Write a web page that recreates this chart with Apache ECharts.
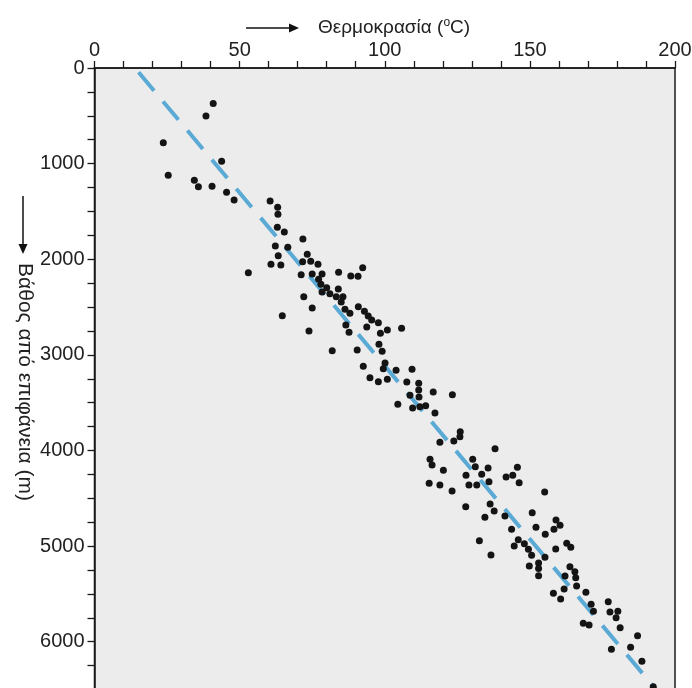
<!DOCTYPE html>
<html><head><meta charset="utf-8">
<script src="https://cdn.jsdelivr.net/npm/echarts@6/dist/echarts.min.js"></script>
<style>html,body{margin:0;padding:0;background:#fff}#c{width:692px;height:688px}</style>
</head><body><div id="c"></div>
<script>
// Temperature (°C) of each measurement
var tempValues = [40.9,38.4,23.7,43.8,25.4,34.4,35.8,40.5,45.5,48.1,60.5,63.1,63.2,63.0,65.4,71.8,62.3,66.6,73.3,63.3,71.7,74.5,60.8,64.2,77.0,53.0,71.2,75.0,78.4,84.1,92.4,88.3,90.8,77.2,78.0,80.0,84.0,78.4,81.1,83.3,85.6,72.1,85.0,75.0,90.9,86.3,88.0,93.0,94.3,95.5,97.8,93.8,86.6,100.9,105.8,87.7,98.5,64.7,73.9,81.9,90.5,98.0,99.1,92.6,100.1,99.5,103.9,109.4,94.9,97.8,100.9,107.6,111.7,111.7,111.8,116.7,123.3,108.7,104.5,109.6,112.1,114.1,117.3,126.0,125.9,123.8,119.0,138.0,115.6,116.3,130.3,131.2,135.6,120.2,145.7,133.4,128.0,141.8,144.1,135.9,146.3,115.3,119.0,129.0,131.7,123.2,155.1,136.3,127.9,137.7,134.5,141.4,150.8,143.7,152.1,159.0,160.4,158.3,155.3,146.0,132.6,144.6,148.1,149.5,150.6,136.6,158.9,162.7,164.1,155.2,153.0,153.0,153.0,149.8,163.8,165.5,165.8,162.1,166.1,161.8,158.1,160.6,169.3,171.1,171.9,168.4,170.4,177.0,177.6,180.3,179.7,181.1,187.1,178.1,184.7,188.6,192.5];
// Depth below surface (m) of each measurement
var depthValues = [370,502,781,976,1122,1174,1241,1237,1300,1380,1391,1457,1530,1666,1715,1788,1862,1875,1948,1963,2026,2022,2053,2060,2053,2141,2162,2154,2154,2137,2088,2175,2178,2210,2262,2298,2311,2343,2360,2392,2392,2392,2447,2510,2496,2524,2565,2544,2594,2635,2664,2709,2688,2740,2722,2764,2775,2590,2750,2956,2949,2890,2963,3120,3085,3145,3161,3151,3239,3281,3256,3284,3297,3367,3441,3388,3417,3423,3517,3556,3542,3532,3608,3804,3856,3901,3914,3981,4092,4152,4092,4170,4183,4207,4176,4249,4260,4277,4260,4326,4337,4343,4361,4361,4361,4424,4434,4560,4588,4633,4699,4685,4651,4824,4803,4727,4783,4824,4877,4933,4944,4999,4975,5033,5096,5093,5030,4971,5013,5117,5177,5234,5310,5208,5215,5268,5330,5313,5417,5449,5494,5553,5483,5609,5682,5807,5825,5581,5689,5682,5749,5853,5937,6079,6058,6205,6470];
// Trend line end points
var trendTemp = [15.2, 193.6];
var trendDepth = [45, 6505];
// Tick labels
var xTickLabels = [0, 50, 100, 150, 200];
var yTickLabels = [0, 1000, 2000, 3000, 4000, 5000, 6000];
var xTitle = 'Θερμοκρασία (';
var yTitle = 'Βάθος από επιφάνεια (m)';

var FONT = '"Liberation Sans", Arial, sans-serif';
var chart = echarts.init(document.getElementById('c'), null, {renderer: 'canvas', width: 692, height: 688});
var pts = tempValues.map(function (t, i) { return [t, depthValues[i]]; });
var trend = trendTemp.map(function (t, i) { return [t, trendDepth[i]]; });

chart.setOption({
  animation: false,
  backgroundColor: '#ffffff',
  grid: {left: 94.5, top: 68, width: 580.5, height: 622, show: true, containLabel: false,
         outerBoundsMode: 'none',
         backgroundColor: '#ececec', borderColor: '#1a1a1a', borderWidth: 1.5},
  xAxis: {
    type: 'value', position: 'top', min: 0, max: 200, interval: 10,
    axisLine: {show: true, lineStyle: {color: '#1a1a1a', width: 1.5}},
    axisTick: {show: true, length: 7, lineStyle: {color: '#1a1a1a', width: 1.3}},
    splitLine: {show: false},
    axisLabel: {margin: 8, fontFamily: FONT, fontSize: 20, color: '#222',
      formatter: function (v) { return xTickLabels.indexOf(v) >= 0 ? String(v) : ''; }}
  },
  yAxis: {
    type: 'value', inverse: true, min: 0, max: 6505, interval: 250,
    axisLine: {show: true, lineStyle: {color: '#1a1a1a', width: 1.5}},
    axisTick: {show: true, length: 7, lineStyle: {color: '#1a1a1a', width: 1.3}},
    splitLine: {show: false},
    axisLabel: {margin: 10, fontFamily: FONT, fontSize: 20, color: '#222', showMaxLabel: false,
      formatter: function (v) { return yTickLabels.indexOf(v) >= 0 ? String(v) : ''; }}
  },
  series: [
    {type: 'line', data: trend, symbol: 'none', z: 2, clip: true,
     lineStyle: {color: '#5aaad5', width: 4, type: [24, 14], cap: 'butt'}},
    {type: 'scatter', data: pts, symbol: 'circle', symbolSize: 7, z: 3,
     itemStyle: {color: '#141414', opacity: 1}}
  ],
  graphic: [
    {type: 'line', shape: {x1: 246, y1: 28, x2: 291, y2: 28}, style: {stroke: '#111', lineWidth: 1.5}},
    {type: 'polygon', shape: {points: [[289, 23.5], [299, 28], [289, 32.5]]}, style: {fill: '#111'}},
    {type: 'text', x: 318, y: 28, style: {
      text: '{a|' + xTitle + '}{s|o}{a|C)}',
      verticalAlign: 'middle',
      rich: {a: {fontFamily: FONT, fontSize: 19, fill: '#222', lineHeight: 22},
             s: {fontFamily: FONT, fontSize: 12, fill: '#222', verticalAlign: 'top', lineHeight: 22}}
    }},
    {type: 'line', shape: {x1: 23, y1: 196, x2: 23, y2: 246}, style: {stroke: '#111', lineWidth: 1.5}},
    {type: 'polygon', shape: {points: [[18.5, 244], [23, 254], [27.5, 244]]}, style: {fill: '#111'}},
    {type: 'text', x: 25, y: 382, rotation: -Math.PI / 2, style: {
      text: yTitle, fontFamily: FONT, fontSize: 21, fill: '#222',
      align: 'center', verticalAlign: 'middle'}}
  ]
});
</script></body></html>
